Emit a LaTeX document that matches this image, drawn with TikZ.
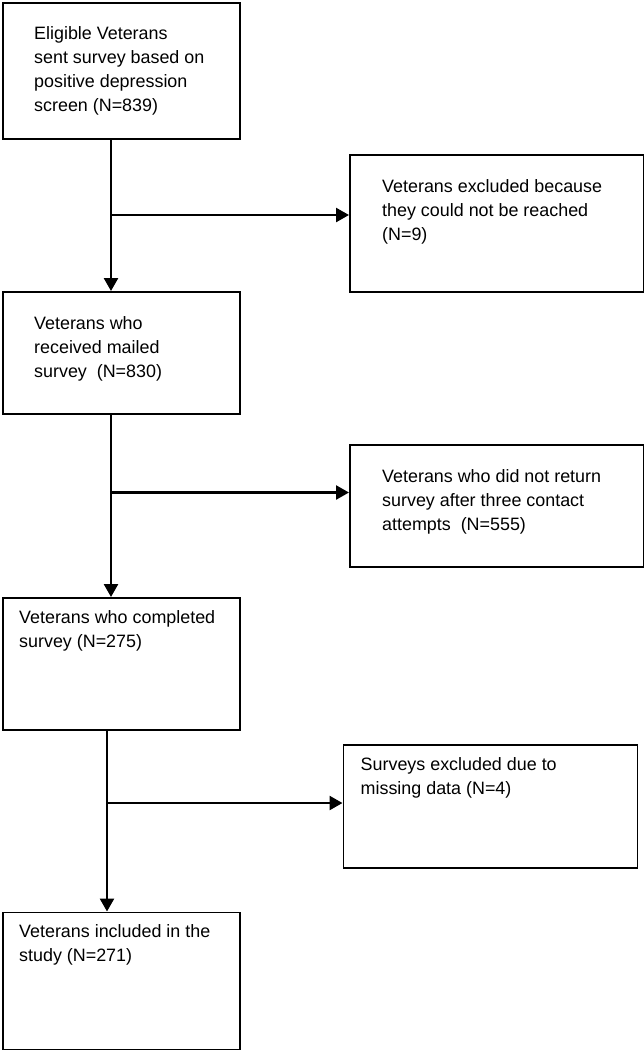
\documentclass[tikz,border=0pt]{standalone}
\usepackage{fontspec}
\setmainfont{Liberation Sans}
\usetikzlibrary{arrows.meta,positioning}
\begin{document}
\begin{tikzpicture}[x=1pt,y=-1pt,
  box/.style={draw,line width=1.9pt,anchor=north west,inner sep=0pt,minimum width=237pt},
  sidebox/.style={box,minimum width=294pt},
  txt/.style={inner sep=0pt,align=left,font=\fontsize{17.9}{24}\selectfont},
  arr/.style={line width=2.5pt,-{Triangle[length=13pt,width=14pt]}}]
\useasboundingbox (0,0) rectangle (644,1050);
% Main column
\node[box,minimum height=136pt] (b1) at (2,2) {};
\node[box,minimum height=122pt] (b2) at (2,291) {};
\node[box,minimum height=132pt] (b3) at (2,597) {};
\node[box,minimum height=137pt] (b4) at (2,911.5) {};
% Exclusions
\node[sidebox,minimum height=137pt] (e1) at (349,154) {};
\node[sidebox,minimum height=122pt] (e2) at (349,444) {};
\node[sidebox,minimum height=123pt] (e3) at (342.5,744) {};
% Texts
\node[txt,below right=24pt and 32pt of b1.north west] (t1) {Eligible Veterans\\sent survey based on\\positive depression\\screen (N=839)};
\node[txt,below right=25pt and 33pt of e1.north west] (s1) {Veterans excluded because\\they could not be reached\\(N=9)};
\node[txt,below right=25pt and 32pt of b2.north west] (t2) {Veterans who\\received mailed\\survey\ \ (N=830)};
\node[txt,below right=25pt and 33pt of e2.north west] (s2) {Veterans who did not return\\survey after three contact\\attempts\ \ (N=555)};
\node[txt,below right=13pt and 17pt of b3.north west] (t3) {Veterans who completed\\survey (N=275)};
\node[txt,below right=13pt and 18pt of e3.north west] (s3) {Surveys excluded due to\\missing data (N=4)};
\node[txt,below right=13pt and 17pt of b4.north west] (t4) {Veterans included in the\\study (N=271)};
% Flow
\coordinate (j1) at (111,215);
\coordinate (j2) at (111,492.5);
\coordinate (j3) at (107,803);
\path[draw,arr] (b1.south -| j1) -- (b2.north -| j1);
\path[draw,arr] (j1) -- (e1.west |- j1);
\path[draw,arr] (b2.south -| j2) -- (b3.north -| j2);
\path[draw,arr] (j2) -- (e2.west |- j2);
\path[draw,arr] (b3.south -| j3) -- (b4.north -| j3);
\path[draw,arr] (j3) -- (e3.west |- j3);
\end{tikzpicture}
\end{document}
